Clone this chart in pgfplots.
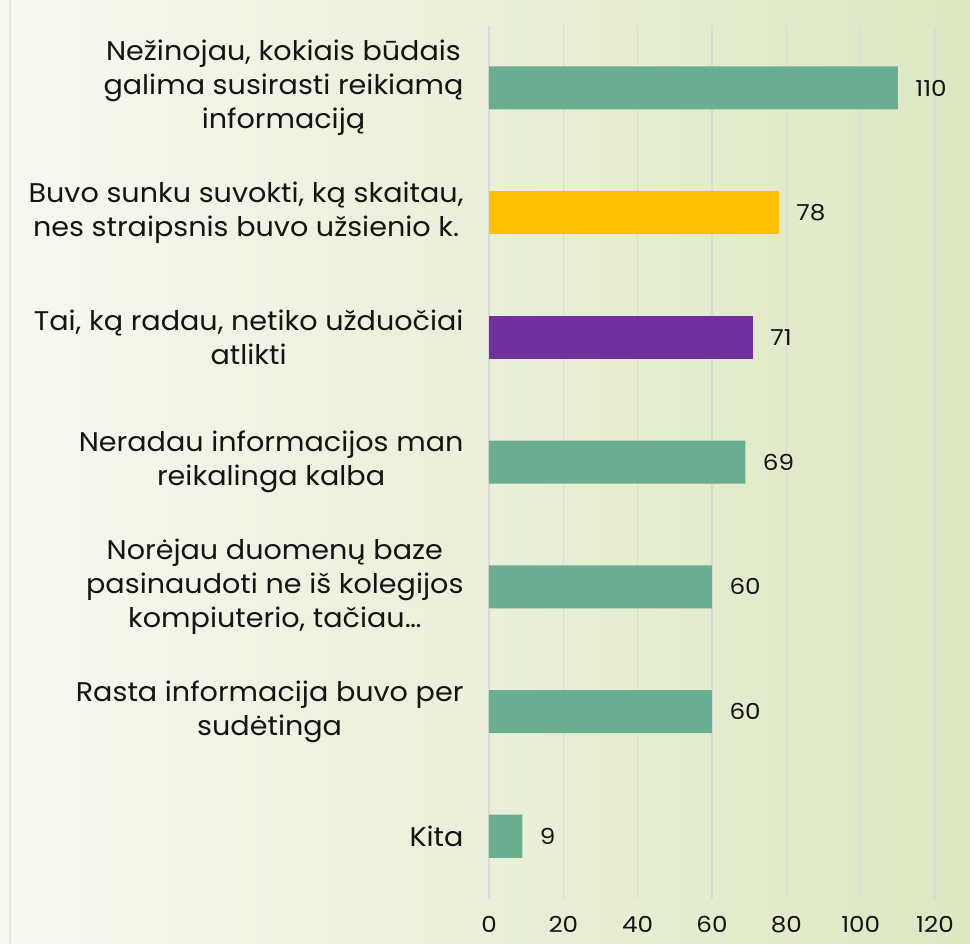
\documentclass[border=0pt]{standalone}
\usepackage{pgfplots}
\pgfplotsset{compat=1.18}
\usepackage{fontspec}
\setmainfont{Poppins}
\newfontfamily\labfont[FakeStretch=1.06]{Poppins}
\newfontfamily\numfont[FakeStretch=1.12]{Poppins}
\definecolor{barG}{HTML}{6AAD91}
\definecolor{barY}{HTML}{FFC000}
\definecolor{barP}{HTML}{7030A0}
\definecolor{gridc}{HTML}{D9D9D9}
\definecolor{bgL}{HTML}{F6F8EF}
\definecolor{bgR}{HTML}{DDE7C2}
\definecolor{txt}{HTML}{141414}
\begin{document}
\begin{tikzpicture}[x=1pt,y=1pt]
\shade[left color=bgL, right color=bgR] (0,0) rectangle (970,943);
\draw[black!10, line width=1.2pt] (10,0) -- (10,943);
\begin{axis}[
  at={(489pt,45pt)}, anchor=south west,
  scale only axis, width=446pt, height=873pt,
  xbar, bar shift=0pt, bar width=0.345,
  xmin=0, xmax=120, ymin=-0.5, ymax=6.5,
  axis line style={draw=none},
  major tick length=0pt,
  xtick={0,20,...,120},
  xmajorgrids, grid style={gridc, line width=1.5pt},
  ytick={0,1,2,3,4,5,6},
  yticklabels={
    {Kita},
    {Rasta informacija buvo per\\sudėtinga},
    {Norėjau duomenų baze\\pasinaudoti ne iš kolegijos\\kompiuterio, tačiau…},
    {Neradau informacijos man\\reikalinga kalba},
    {Tai, ką radau, netiko užduočiai\\atlikti},
    {Buvo sunku suvokti, ką skaitau,\\nes straipsnis buvo užsienio k.},
    {Nežinojau, kokiais būdais\\galima susirasti reikiamą\\informaciją}},
  yticklabel style={align=center, font=\labfont\fontsize{27}{34}\selectfont, text=txt, xshift=-22pt},
  xticklabel style={font=\numfont\fontsize{22}{26}\selectfont, text=txt, yshift=-14pt},
  /pgf/number format/assume math mode=true,
  nodes near coords,
  nodes near coords style={font=\numfont\fontsize{22}{26}\selectfont, text=txt, anchor=west, xshift=14pt},
  clip=false,
]
\addplot[fill=barG, draw=none] coordinates {(110,6) (69,3) (60,2) (60,1) (9,0)};
\addplot[fill=barY, draw=none] coordinates {(78,5)};
\addplot[fill=barP, draw=none] coordinates {(71,4)};
\end{axis}
\end{tikzpicture}
\end{document}
